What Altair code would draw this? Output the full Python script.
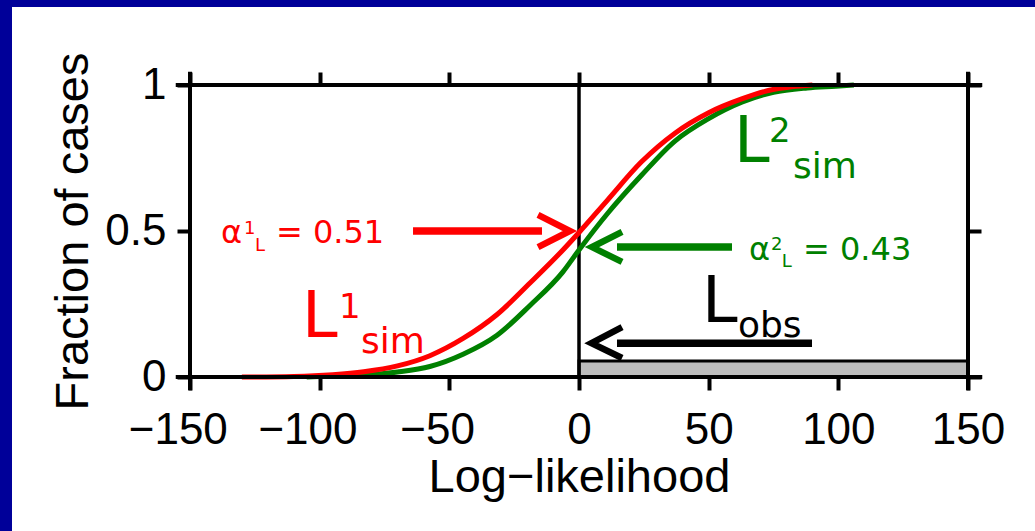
import altair as alt
import pandas as pd

# ---------------- data ----------------
# cumulative curves (Log-likelihood -> fraction of cases)
RED_X = [-130, -110, -95, -83, -70, -57.5, -44.7, -31.6, -18.9, -6.2, 0, 11, 24, 37, 50, 63, 73, 82, 90]
RED_Y = [0.0, 0.002, 0.008, 0.018, 0.038, 0.073, 0.132, 0.214, 0.322, 0.435, 0.495, 0.606, 0.736, 0.835,
         0.905, 0.953, 0.981, 0.994, 1.0]
GREEN_X = [-105, -90, -77, -70, -57.5, -44.7, -31.6, -18.9, -6.2, 0, 11, 24, 37, 50, 63, 75, 88, 99, 106]
GREEN_Y = [0.0, 0.004, 0.01, 0.017, 0.036, 0.078, 0.143, 0.245, 0.36, 0.435, 0.56, 0.69, 0.808, 0.885,
           0.942, 0.975, 0.99, 0.996, 1.0]

# observed bar (x from, x to, height)
OBS_X = [0]
OBS_X2 = [150]
OBS_H = [0.055]

X_TICKS = [-150, -100, -50, 0, 50, 100, 150]
Y_TICKS = [0, 0.5, 1]

# annotation anchors (data units)
RED_MAIN_T = ["α", "= 0.51"]
RED_MAIN_X = [-138.05, -116.84]
RED_MAIN_Y = [0.459, 0.459]
RED_SMALL_T = ["1", "L"]
RED_SMALL_X = [-129.2, -124.9]
RED_SMALL_Y = [0.4897, 0.4315]

GREEN_MAIN_T = ["α", "= 0.43"]
GREEN_MAIN_X = [65.55, 86.38]
GREEN_MAIN_Y = [0.4007, 0.4007]
GREEN_SMALL_T = ["2", "L"]
GREEN_SMALL_X = [74.0, 78.2]
GREEN_SMALL_Y = [0.4349, 0.3767]

L1_T, L1_X, L1_Y = ["L", "1", "sim"], [-106.81, -92.55, -84.06], [0.137, 0.202, 0.0822]
L2_T, L2_X, L2_Y = ["L", "2", "sim"], [59.77, 73.27, 82.52], [0.7363, 0.8048, 0.6815]
LO_T, LO_X, LO_Y = ["L", "obs"], [47.43, 61.31], [0.1884, 0.137]

# arrows: shafts (x, x2, y) and chevrons (three points each)
SHAFT_NAME = ["red", "green", "black"]
SHAFT_X = [-64.0, 14.65, 14.65]
SHAFT_X2 = [-14.27, 59.0, 89.85]
SHAFT_Y = [0.5, 0.445, 0.116]
CHEV_RED_X, CHEV_RED_Y = [-15.8, -3.5, -15.8], [0.555, 0.5, 0.445]
CHEV_GREEN_X, CHEV_GREEN_Y = [16.6, 5.0, 16.6], [0.497, 0.445, 0.394]
CHEV_BLACK_X, CHEV_BLACK_Y = [16.6, 4.8, 16.6], [0.171, 0.116, 0.065]

RED = "#ff0000"
GREEN = "#008000"
BLUE = "#000099"
AX_FONT = "Liberation Sans"
ANN_FONT = "DejaVu Sans"

xs = alt.Scale(domain=[-150, 150], nice=False, zero=False)
ys = alt.Scale(domain=[0, 1], nice=False, zero=False)


def xenc(axis=None):
    return alt.X("x:Q", scale=xs, axis=axis)


def yenc(axis=None):
    return alt.Y("y:Q", scale=ys, axis=axis)


# ---------------- axes ----------------
# negative labels: digits centred on the tick, the minus sign hanging to the left
x_bottom = alt.Axis(
    orient="bottom", values=X_TICKS, domain=False, grid=False, tickSize=13, tickWidth=4,
    tickColor="black", labelFont=AX_FONT, labelFontSize=44, labelColor="black", labelPadding=18,
    labelFlush=False, labelOverlap=False,
    labelExpr="datum.value < 0 ? datum.label + '\u00a0\u00a0\u200b' : datum.label",
    title="Log\u2212likelihood", titleFont=AX_FONT, titleFontSize=47, titleFontWeight="normal",
    titleColor="black", titleX=389, titleY=114, titleBaseline="alphabetic", titleAlign="center",
)
y_left = alt.Axis(
    orient="left", values=Y_TICKS, format="~g", domain=False, grid=False, tickSize=13, tickWidth=4,
    tickColor="black", labelFont=AX_FONT, labelFontSize=44, labelColor="black", labelPadding=11,
    labelFlush=False, labelOverlap=False,
    title="Fraction of cases", titleFont=AX_FONT, titleFontSize=47, titleFontWeight="normal",
    titleColor="black", titleX=-103, titleY=146, titleAngle=270, titleBaseline="alphabetic",
    titleAlign="center",
)
x_top = alt.Axis(orient="top", values=X_TICKS, domain=False, grid=False, labels=False, tickSize=13,
                 tickWidth=4, tickColor="black", title="")
y_right = alt.Axis(orient="right", values=Y_TICKS, domain=False, grid=False, labels=False, tickSize=13,
                   tickWidth=4, tickColor="black", title="")

# ---------------- layers ----------------
one = pd.DataFrame({"k": [0]})
blue_left = alt.Chart(one).mark_rect(color=BLUE).encode(
    x=alt.value(-190), x2=alt.value(-178), y=alt.value(-85), y2=alt.value(446))
blue_top = alt.Chart(one).mark_rect(color=BLUE).encode(
    x=alt.value(-190), x2=alt.value(845), y=alt.value(-85), y2=alt.value(-78))

obs = pd.DataFrame({"x": OBS_X, "x2": OBS_X2, "y": [0] * len(OBS_X), "y2": OBS_H})
obs_bar = alt.Chart(obs).mark_rect(fill="#bdbdbd", stroke="black", strokeWidth=3).encode(
    x=xenc(), x2="x2:Q", y=yenc(), y2="y2:Q")

vline_df = pd.DataFrame({"x": [0], "y": [0], "y2": [1]})
vline = alt.Chart(vline_df).mark_rule(color="black", strokeWidth=3.5).encode(
    x=xenc(), y=yenc(), y2="y2:Q")

curves = pd.DataFrame({
    "x": GREEN_X + RED_X,
    "y": GREEN_Y + RED_Y,
    "s": ["L2"] * len(GREEN_X) + ["L1"] * len(RED_X),
})
curve_layer = alt.Chart(curves).mark_line(strokeWidth=5, interpolate="monotone").encode(
    x=xenc(x_bottom), y=yenc(y_left),
    color=alt.Color("s:N", scale=alt.Scale(domain=["L2", "L1"], range=[GREEN, RED]), legend=None),
)

frame = pd.DataFrame({
    "x": [-155.5, -155.5, -150, 150],
    "x2": [155.5, 155.5, -150, 150],
    "y": [1, 0, -0.045, -0.045],
    "y2": [1, 0, 1.045, 1.045],
})
frame_layer = alt.Chart(frame).mark_rule(color="black", strokeWidth=4, strokeCap="butt").encode(
    x=xenc(x_top), x2="x2:Q", y=yenc(y_right), y2="y2:Q")

shafts = pd.DataFrame({"x": SHAFT_X, "x2": SHAFT_X2, "y": SHAFT_Y, "s": SHAFT_NAME})
shaft_layer = alt.Chart(shafts).mark_rule(strokeWidth=7.5, strokeCap="butt").encode(
    x=xenc(), x2="x2:Q", y=yenc(),
    color=alt.Color("s:N", scale=alt.Scale(domain=["red", "green", "black"], range=[RED, GREEN, "black"]),
                    legend=None),
)

chev = pd.DataFrame({
    "x": CHEV_RED_X + CHEV_GREEN_X + CHEV_BLACK_X,
    "y": CHEV_RED_Y + CHEV_GREEN_Y + CHEV_BLACK_Y,
    "s": ["red"] * 3 + ["green"] * 3 + ["black"] * 3,
    "i": [0, 1, 2] * 3,
})
chev_layer = alt.Chart(chev).mark_line(strokeWidth=6.5, strokeJoin="miter", strokeCap="butt").encode(
    x=xenc(), y=yenc(), order="i:Q",
    color=alt.Color("s:N", scale=alt.Scale(domain=["red", "green", "black"], range=[RED, GREEN, "black"]),
                    legend=None),
)


def txt(texts, xv, yv, size, color):
    df = pd.DataFrame({"x": xv, "y": yv, "t": texts})
    return alt.Chart(df).mark_text(align="left", baseline="alphabetic", fontSize=size, color=color,
                                   font=ANN_FONT).encode(x=xenc(), y=yenc(), text="t:N")


texts = [
    txt(RED_MAIN_T, RED_MAIN_X, RED_MAIN_Y, 32, RED),
    txt(RED_SMALL_T, RED_SMALL_X, RED_SMALL_Y, 18, RED),
    txt(GREEN_MAIN_T, GREEN_MAIN_X, GREEN_MAIN_Y, 32, GREEN),
    txt(GREEN_SMALL_T, GREEN_SMALL_X, GREEN_SMALL_Y, 18, GREEN),
    txt(L1_T[:1], L1_X[:1], L1_Y[:1], 64, RED),
    txt(L1_T[1:2], L1_X[1:2], L1_Y[1:2], 34, RED),
    txt(L1_T[2:], L1_X[2:], L1_Y[2:], 36, RED),
    txt(L2_T[:1], L2_X[:1], L2_Y[:1], 64, GREEN),
    txt(L2_T[1:2], L2_X[1:2], L2_Y[1:2], 34, GREEN),
    txt(L2_T[2:], L2_X[2:], L2_Y[2:], 36, GREEN),
    txt(LO_T[:1], LO_X[:1], LO_Y[:1], 64, "black"),
    txt(LO_T[1:], LO_X[1:], LO_Y[1:], 36, "black"),
]

chart = alt.layer(
    blue_left, blue_top, obs_bar, vline, curve_layer, frame_layer, shaft_layer, chev_layer, *texts
).resolve_axis(x="independent", y="independent").resolve_scale(color="independent").properties(
    width=778, height=292,
    autosize=alt.AutoSizeParams(type="none"),
    padding={"left": 190, "top": 85, "right": 67, "bottom": 154},
    background="white",
).configure_view(stroke=None)

chart.save("out.html", embed_options={"renderer": "svg", "actions": False})
